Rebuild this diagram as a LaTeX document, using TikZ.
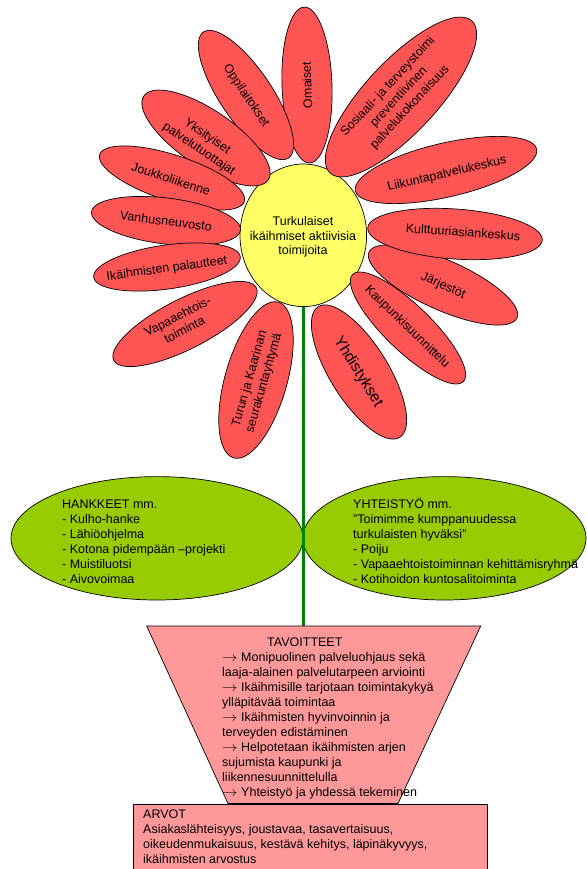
\documentclass[tikz,border=0pt]{standalone}
\usepackage{graphicx}
\usepackage{fontspec}
\setmainfont{Liberation Sans}
\usetikzlibrary{shapes.geometric}
\definecolor{petalred}{RGB}{255,85,85}
\definecolor{centeryellow}{RGB}{255,255,102}
\definecolor{leafgreen}{RGB}{153,204,0}
\definecolor{stemgreen}{RGB}{0,128,0}
\definecolor{potpink}{RGB}{255,153,153}
\newcommand{\fsz}{\fontsize{12.5bp}{15bp}\selectfont}
\newcommand{\arr}{\scalebox{1.3}[1.1]{$\rightarrow$}\ }
\newcommand{\petal}[8]{%
  \node[petal, rotate=#4, minimum width=#5bp, minimum height=#6bp] (#1) at (#2,#3) {};
  \node[ptext, rotate=#4] (#1t) at #7 {#8};
}
\begin{document}
\begin{tikzpicture}[x=1bp,y=-1bp,
  petal/.style={ellipse, draw=black, line width=0.7bp, fill=petalred, inner sep=0pt},
  ptext/.style={align=center, inner sep=0pt, font=\fsz},
  leaf/.style={ellipse, draw=black, line width=0.7bp, fill=leafgreen, inner sep=0pt, minimum height=123.4bp},
  btext/.style={align=left, anchor=north west, inner sep=0pt, font=\fsz},
  stem/.style={draw=stemgreen, line width=3.6bp},
  potshape/.style={draw=black, line width=0.7bp, fill=potpink}]
\useasboundingbox (0,0) rectangle (587,869);
% leaves
\node[leaf, minimum width=292bp] (hank) at (157,538.3) {};
\node[leaf, minimum width=283bp] (yht) at (444.5,538.3) {};
\node[btext] (hankt) at (62,496.8) {\rule{0pt}{11bp}HANKKEET mm.\\- Kulho-hanke\\- Lähiöohjelma\\- Kotona pidempään –projekti\\- Muistiluotsi\\- Aivovoimaa};
\node[btext] (yhtt) at (353,496.8) {\rule{0pt}{11bp}YHTEISTYÖ mm.\\"Toimimme kumppanuudessa\\turkulaisten hyväksi”\\- Poiju\\- Vapaaehtoistoiminnan kehittämisryhmä\\- Kotihoidon kuntosalitoiminta};
% centre
\node[ellipse, draw=black, line width=0.7bp, fill=centeryellow, minimum width=126.6bp, minimum height=142.6bp, inner sep=0pt] (cent) at (303.3,235.3) {};
\node[ptext, font=\fontsize{12.5bp}{14.5bp}\selectfont] (centt) at (303,237) {Turkulaiset\\ikäihmiset aktiivisia\\toimijoita};
% petals
\petal{omaiset}{307}{85}{92}{156}{50}{(307,85)}{Omaiset}
\petal{oppi}{246}{95}{-56}{152}{52}{(246,96)}{Oppilaitokset}
\petal{sosiaali}{401}{97}{47}{208}{72}{(399,97)}{Sosiaali- ja terveystoimi\\preventiivinen\\palvelukokonaisuus}
\petal{yksit}{206}{138}{-34}{150}{56}{(203,143)}{Yksityiset\\palvelutuottajat}
\petal{joukko}{172}{178}{-18}{152}{46}{(171,179)}{Joukkoliikenne}
\petal{vanhus}{166}{221}{-7}{150}{46}{(166,221)}{Vanhusneuvosto}
\petal{palaute}{167}{267}{8}{148}{44}{(167,269)}{Ikäihmisten palautteet}
\petal{vapaa}{185}{324}{27}{160}{50}{(181,323)}{Vapaaehtois-\\toiminta}
\petal{turun}{256}{380}{74}{162}{62}{(257,381)}{Turun ja Kaarinan\\seurakuntayhtymä}
\petal{yhdist}{359}{372}{-58}{154}{58}{(358,372)}{\fontsize{15.5bp}{18bp}\selectfont Yhdistykset}
\petal{kaupunki}{408}{328}{-44}{154}{46}{(407,327)}{Kaupunkisuunnittelu}
\petal{jarjesto}{443}{285}{-24}{162}{50}{(443,286)}{Järjestöt}
\petal{kulttuuri}{455}{234}{-4}{175}{50}{(463,232)}{Kulttuuriasiankeskus}
\petal{liikunta}{446}{170}{13}{186}{54}{(447,174)}{Liikuntapalvelukeskus}
% stem
\coordinate (pottop) at (303.3,626);
\draw[stem] (cent.south) -- (pottop);
% pot
\coordinate (ptl) at (146.7,626);
\coordinate (ptr) at (480.7,626);
\coordinate (pbr) at (398,803.5);
\coordinate (pbl) at (228,803.5);
\draw[potshape] (ptl) -- (ptr) -- (pbr) -- (pbl) -- cycle;
\node[btext] (goals) at (222,635.2) {\rule{0pt}{11bp}\hspace{45bp}TAVOITTEET\\\arr Monipuolinen palveluohjaus sekä\\laaja-alainen palvelutarpeen arviointi\\\arr Ikäihmisille tarjotaan toimintakykyä\\ylläpitävää toimintaa\\\arr Ikäihmisten hyvinvoinnin ja\\terveyden edistäminen\\\arr Helpotetaan ikäihmisten arjen\\sujumista kaupunki ja\\liikennesuunnittelulla\\\arr Yhteistyö ja yhdessä tekeminen};
% base
\node[draw=black, line width=0.7bp, fill=potpink, minimum width=354bp, minimum height=65bp, inner sep=0pt, anchor=north west] (arvot) at (132.7,803.5) {};
\node[btext] (arvott) at (143,806.8) {\rule{0pt}{11bp}ARVOT\\Asiakaslähteisyys, joustavaa, tasavertaisuus,\\oikeudenmukaisuus, kestävä kehitys, läpinäkyvyys,\\ikäihmisten arvostus};
\end{tikzpicture}
\end{document}
